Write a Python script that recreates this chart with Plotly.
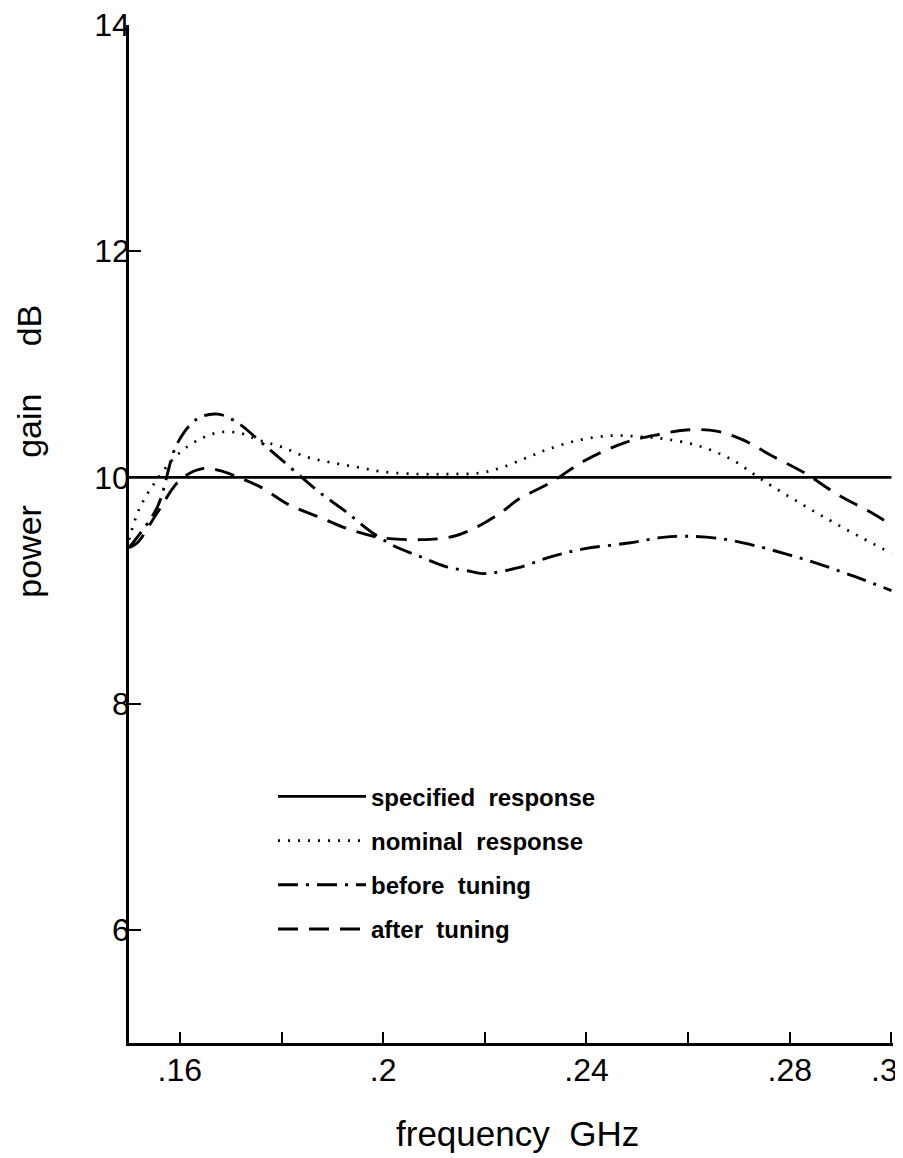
import plotly.graph_objects as go

# ---- data (frequency in GHz, power gain in dB) ----
spec_f = [0.150, 0.300]
spec_v = [10.0, 10.0]

nominal_f = [0.150, 0.152, 0.155, 0.1595, 0.164, 0.168, 0.172, 0.1755, 0.180, 0.185,
             0.190, 0.195, 0.200, 0.207, 0.213, 0.219, 0.2235, 0.2285, 0.2325, 0.2385,
             0.245, 0.2505, 0.2555, 0.262, 0.2685, 0.2745, 0.281, 0.2875, 0.294, 0.300]
nominal_v = [9.45, 9.72, 9.95, 10.20, 10.34, 10.40, 10.39, 10.33, 10.27, 10.18,
             10.13, 10.09, 10.05, 10.03, 10.03, 10.04, 10.09, 10.18, 10.25, 10.33,
             10.37, 10.36, 10.34, 10.28, 10.16, 9.98, 9.80, 9.63, 9.47, 9.33]

before_f = [0.150, 0.1516, 0.1556, 0.1595, 0.1635, 0.1675, 0.1715, 0.1755, 0.1794, 0.184,
            0.188, 0.1926, 0.1973, 0.2019, 0.2073, 0.2125, 0.2172, 0.2198, 0.2264, 0.2331,
            0.2397, 0.2483, 0.255, 0.2596, 0.2662, 0.2729, 0.2795, 0.2861, 0.293, 0.300]
before_v = [9.38, 9.47, 9.74, 10.30, 10.52, 10.56, 10.48, 10.33, 10.18, 10.00,
            9.85, 9.70, 9.53, 9.40, 9.30, 9.21, 9.17, 9.15, 9.20, 9.30,
            9.37, 9.42, 9.47, 9.48, 9.46, 9.40, 9.32, 9.23, 9.12, 9.00]

after_f = [0.150, 0.1516, 0.1556, 0.1601, 0.1647, 0.1687, 0.1721, 0.1761, 0.1814, 0.1874,
           0.1934, 0.1993, 0.2073, 0.2139, 0.2192, 0.2238, 0.2264, 0.2331, 0.2397, 0.2477,
           0.2542, 0.2596, 0.2656, 0.2709, 0.2761, 0.2829, 0.2894, 0.296, 0.300]
after_v = [9.38, 9.42, 9.69, 9.98, 10.08, 10.05, 9.99, 9.91, 9.76, 9.65,
           9.54, 9.47, 9.45, 9.48, 9.58, 9.71, 9.80, 9.96, 10.15, 10.31,
           10.38, 10.42, 10.41, 10.33, 10.20, 10.04, 9.85, 9.69, 9.58]

x_tickvals = [0.16, 0.18, 0.20, 0.22, 0.24, 0.26, 0.28, 0.30]
x_ticktext = [".16", "", ".2", "", ".24", "", ".28", ""]
x_last_label = ".3"          # drawn as an annotation so it stays inside the page
y_tickvals = [6, 8, 10, 12, 14]
y_ticktext = ["6", "8", "10", "12", "14"]

names = ["specified\u00a0\u00a0response", "nominal\u00a0\u00a0response",
         "before\u00a0\u00a0tuning", "after\u00a0\u00a0tuning"]

FONT = "Liberation Sans, Arial, sans-serif"
INK = "#000000"
SPY = "\u00a0\u00a0\u00a0\u00a0 "
SPX = "\u00a0 "

fig = go.Figure()
fig.add_trace(go.Scatter(x=spec_f, y=spec_v, mode="lines", name=names[0], legendgroup="a",
                         line=dict(color=INK, width=2.7)))
fig.add_trace(go.Scatter(x=nominal_f, y=nominal_v, mode="lines", name=names[1], legendgroup="b",
                         line=dict(color=INK, width=2.7, dash="2px,8px", shape="spline")))
fig.add_trace(go.Scatter(x=before_f, y=before_v, mode="lines", name=names[2], legendgroup="c",
                         line=dict(color=INK, width=2.9, dash="20px,8px,3px,8px", shape="spline")))
fig.add_trace(go.Scatter(x=after_f, y=after_v, mode="lines", name=names[3], legendgroup="d",
                         line=dict(color=INK, width=2.9, dash="20px,11px", shape="spline")))

fig.update_layout(
    width=895, height=1150,
    margin=dict(l=121, r=10, t=17, b=115, autoexpand=False),
    paper_bgcolor="white", plot_bgcolor="white",
    font=dict(family=FONT, color=INK),
    showlegend=True,
    legend=dict(x=0.1885, y=0.264, xanchor="left", yanchor="top",
                bgcolor="rgba(0,0,0,0)", borderwidth=0,
                font=dict(family=FONT, size=24, color=INK, weight="bold"),
                itemwidth=88, tracegroupgap=10, traceorder="grouped"),
    xaxis=dict(range=[0.15, 0.3003], showgrid=False, zeroline=False,
               showline=True, linecolor=INK, linewidth=2.5,
               ticks="inside", ticklen=11, tickwidth=2, tickcolor=INK,
               tickvals=x_tickvals, ticktext=x_ticktext,
               tickfont=dict(family=FONT, size=32, color=INK),
               ticklabelstandoff=-3, ticklabeloverflow="allow",
               automargin=False, mirror=False),
    yaxis=dict(range=[5, 14], showgrid=False, zeroline=False,
               showline=True, linecolor=INK, linewidth=2.5,
               ticks="inside", ticklen=12, tickwidth=2, tickcolor=INK,
               tickvals=y_tickvals, ticktext=y_ticktext,
               tickfont=dict(family=FONT, size=32, color=INK),
               ticklabelstandoff=-10, ticklabeloverflow="allow",
               automargin=False, mirror=False),
    annotations=[
        dict(text=x_last_label, xref="x", yref="paper", x=x_tickvals[-1], y=-0.0265,
             xanchor="center", yanchor="middle", xshift=-7, showarrow=False,
             font=dict(family=FONT, size=32, color=INK)),
        dict(text="frequency" + SPX + "GHz", xref="paper", yref="paper",
             x=0.509, y=-0.089, xanchor="center", yanchor="middle", showarrow=False,
             font=dict(family=FONT, size=35, color=INK)),
        dict(text="power" + SPY + "gain" + SPY + "dB", xref="paper", yref="paper",
             x=-0.132, y=0.581, xanchor="center", yanchor="middle", showarrow=False,
             textangle=-90, font=dict(family=FONT, size=34, color=INK)),
    ],
)

fig.write_html("out.html")
